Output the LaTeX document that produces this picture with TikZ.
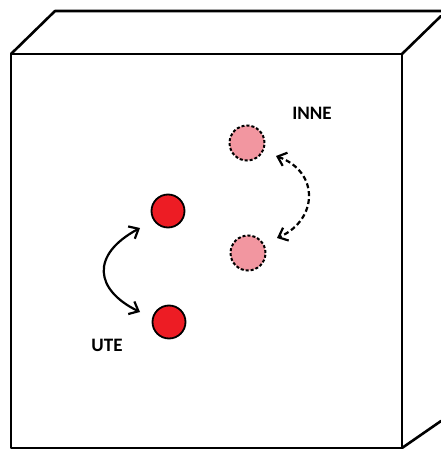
\documentclass[tikz,border=0pt]{standalone}
\usepackage{fontspec}
\setmainfont{Carlito}
\usetikzlibrary{arrows.meta}
\definecolor{dotred}{RGB}{237,28,36}
\definecolor{dotpink}{RGB}{242,150,160}
\tikzset{
  edge/.style={line width=2.6pt, line join=round, line cap=round},
  solid dot/.style={circle, draw=black, line width=1.8pt, fill=dotred, minimum size=33pt, inner sep=0pt},
  ghost dot/.style={circle, draw=black, line width=2pt, dash pattern=on 3pt off 2pt, fill=dotpink, minimum size=35pt, inner sep=0pt},
  swap/.style={line width=2.2pt, {Straight Barb[length=8pt,width=14pt]}-{Straight Barb[length=8pt,width=14pt]}},
  swapdash/.style={swap, dash pattern=on 5pt off 3pt},
  tag/.style={font=\bfseries\fontsize{19}{22}\selectfont}
}
\begin{document}
\begin{tikzpicture}[x=1pt,y=-1pt]
\useasboundingbox (0,0) rectangle (440,449);
% box outline: front face, top face, right side
\draw[edge] (11,54) rectangle (402,448);
\draw[edge] (11,54) -- (55,11) -- (441,11);
\draw[edge] (402,54) -- (441,16);
\draw[edge] (402,448) -- (441,421);
% outer pair
\node[solid dot] (a) at (168,211) {};
\node[solid dot] (b) at (169,322) {};
% inner pair
\node[ghost dot] (c) at (247,143) {};
\node[ghost dot] (d) at (248,253) {};
% swap arrows
\draw[swap] (140,228) .. controls (90,255) and (95,290) .. (140,312);
\draw[swapdash] (276,156) .. controls (320,172) and (318,220) .. (277,238);
% labels
\node[tag] (inne) at (312,113) {INNE};
\node[tag] (ute) at (107,345) {UTE};
\end{tikzpicture}
\end{document}
